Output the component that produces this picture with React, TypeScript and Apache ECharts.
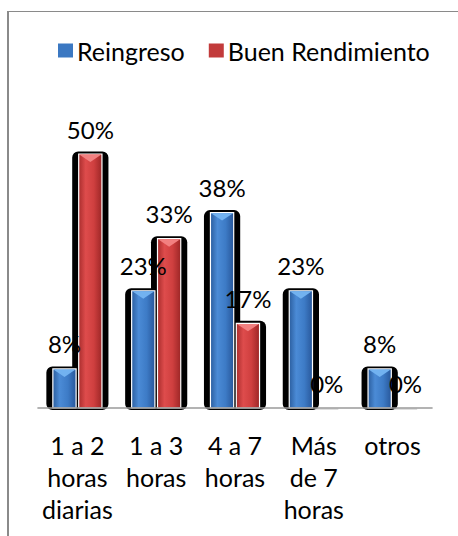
import React, { useEffect, useRef } from "react";
import * as echarts from "echarts";

const categories = ["1 a 2\nhoras\ndiarias", "1 a 3\nhoras", "4 a 7\nhoras", "Más\nde 7\nhoras", "otros"];
const reingreso = [7.69, 23.08, 38.46, 23.08, 7.69];
const buenRendimiento = [50, 33.33, 16.67, 0, 0];
const seriesNames = ["Reingreso", "Buen Rendimiento"];

const FONT = "Lato, 'Noto Sans', sans-serif";

type Palette = { stops: string[]; tri: string; legend: string };
const BLUE: Palette = { stops: ["#2b5e9f", "#4b8bd6", "#3d7bc6", "#28579a"], tri: "#72b2f0", legend: "#3b78c2" };
const RED: Palette = { stops: ["#a92d2d", "#de4c4c", "#cf3f3f", "#9c2626"], tri: "#f28080", legend: "#c23b3b" };

function makeRender(sideSign: number, pal: Palette) {
  return (params: any, api: any) => {
    const cat = api.value(0);
    const val = api.value(1);
    const base = api.coord([cat, 0]);
    const top = api.coord([cat, val]);
    const bandW = api.size([1, 0])[0];
    const barW = bandW * 0.295;
    const cx = base[0] + sideSign * bandW * 0.164;
    const x = cx - barW / 2;
    const h = base[1] - top[1];
    const children: any[] = [];
    if (h > 0.5) {
      children.push({
        type: "rect",
        z2: 0,
        shape: { x: x - 6.5, y: top[1] - 2.5, width: barW + 13, height: h + 4.5, r: 6 },
        style: { fill: "#000" },
      });
      children.push({
        type: "rect",
        z2: 10,
        shape: { x, y: top[1], width: barW, height: h },
        style: {
          fill: {
            type: "linear", x: 0, y: 0, x2: 1, y2: 0,
            colorStops: [
              { offset: 0, color: pal.stops[0] },
              { offset: 0.3, color: pal.stops[1] },
              { offset: 0.65, color: pal.stops[2] },
              { offset: 1, color: pal.stops[3] },
            ],
          },
          stroke: "#fff",
          lineWidth: 1.2,
        },
      });
      children.push({
        type: "polygon",
        z2: 11,
        shape: {
          points: [
            [x + 0.6, top[1] + 0.6],
            [x + barW - 0.6, top[1] + 0.6],
            [cx, top[1] + Math.min(8, h - 1)],
          ],
        },
        style: { fill: pal.tri },
      });
    } else {
      children.push({
        type: "rect",
        z2: 1,
        shape: { x, y: base[1] + 0.5, width: barW, height: 1.2 },
        style: { fill: "#d0d0d0" },
      });
    }
    children.push({
      type: "text",
      z2: 20,
      x: cx,
      y: top[1] - 25,
      style: {
        text: Math.round(val) + "%",
        fill: "#000",
        fontSize: 24,
        fontFamily: FONT,
        align: "center",
        verticalAlign: "middle",
        textAlign: "center",
        textVerticalAlign: "middle",
      },
    });
    return { type: "group", children };
  };
}

export default function App() {
  const ref = useRef<HTMLDivElement>(null);
  useEffect(() => {
    if (!ref.current) return;
    const chart = echarts.init(ref.current, null, { renderer: "svg" });
    chart.setOption({
      animation: false,
      backgroundColor: "#fff",
      graphic: [
        { type: "line", z: 100, shape: { x1: 8, y1: 11, x2: 8, y2: 540 }, style: { stroke: "#8a8a8a", lineWidth: 2 } },
        { type: "line", z: 100, shape: { x1: 7, y1: 11.5, x2: 460, y2: 11.5 }, style: { stroke: "#8a8a8a", lineWidth: 1.2 } },
      ],
      legend: {
        data: seriesNames.map((n, i) => ({ name: n, itemStyle: { color: i === 0 ? BLUE.legend : RED.legend } })),
        left: 53,
        top: 33,
        icon: "rect",
        itemWidth: 15,
        itemHeight: 14,
        itemGap: 24,
        textStyle: { fontSize: 25, fontFamily: FONT, color: "#000", padding: [0, 0, 0, -1] },
      },
      grid: { left: 38, right: 26, top: 103.2, bottom: 128 },
      xAxis: {
        type: "category",
        data: categories,
        z: 10,
        axisLine: { lineStyle: { color: "#9a9a9a", width: 1.6 } },
        axisTick: { show: false },
        axisLabel: {
          interval: 0,
          fontSize: 25,
          lineHeight: 32,
          margin: 21,
          color: "#000",
          fontFamily: FONT,
          align: "center",
        },
      },
      yAxis: { type: "value", min: 0, max: 60, show: false },
      series: [
        {
          name: seriesNames[0],
          type: "custom",
          itemStyle: { color: BLUE.legend },
          renderItem: makeRender(-1, BLUE),
          encode: { x: 0, y: 1 },
          data: reingreso.map((v, i) => [i, v]),
        },
        {
          name: seriesNames[1],
          type: "custom",
          itemStyle: { color: RED.legend },
          renderItem: makeRender(1, RED),
          encode: { x: 0, y: 1 },
          data: buenRendimiento.map((v, i) => [i, v]),
        },
      ],
    });
    return () => chart.dispose();
  }, []);
  return <div ref={ref} style={{ position: "absolute", left: 0, top: 0, width: 458, height: 536 }} />;
}
